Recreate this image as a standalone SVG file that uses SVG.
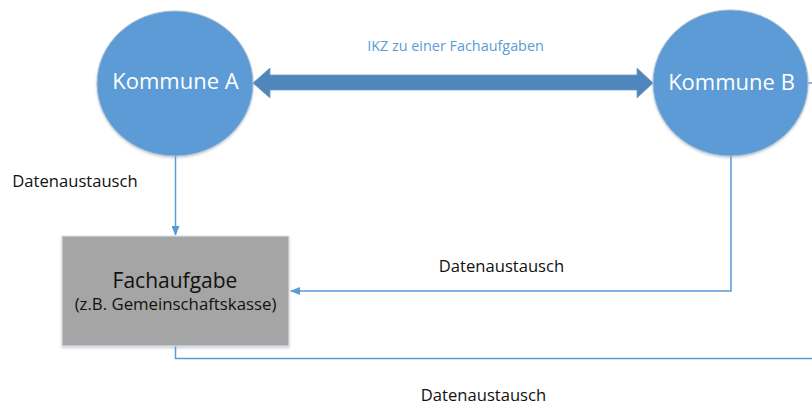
<svg xmlns="http://www.w3.org/2000/svg" width="812" height="405" viewBox="0 0 812 405">
<defs>
<style>
.lbl{font-family:"Open Sans","Liberation Sans",sans-serif;fill:#111111;text-anchor:middle}
.node{fill:#5B9BD5;stroke:#a9bdd0;stroke-width:1}
.ntxt{font-family:"Open Sans","Liberation Sans",sans-serif;fill:#ffffff;text-anchor:middle}
.conn{fill:none;stroke:#5B9BD5;stroke-width:1.5}
</style>
<marker id="ah" markerWidth="10" markerHeight="8" refX="9" refY="4" orient="auto" markerUnits="userSpaceOnUse">
<path d="M0,0 L10,4 L0,8 Z" fill="#5B9BD5"/>
</marker>
<filter id="sh" x="-10%" y="-10%" width="120%" height="125%">
<feDropShadow dx="0" dy="1.5" stdDeviation="1.2" flood-color="#7f93a8" flood-opacity="0.45"/>
</filter>
</defs>
<rect width="812" height="405" fill="#ffffff"/>
<g id="connectors">
<polygon points="253,83 270,68 270,75 637,75 637,68 653,83 637,98 637,90 270,90 270,98" fill="#4F86BB" stroke="#6f9cc7" stroke-width="0.8"/>
<text class="lbl" x="455.5" y="51" font-size="14.4" style="fill:#5B9BD5">IKZ zu einer Fachaufgaben</text>
<line class="conn" x1="175.5" y1="156" x2="175.5" y2="235" marker-end="url(#ah)"/>
<polyline class="conn" points="731,156 731,291 291,291" marker-end="url(#ah)"/>
<polyline class="conn" points="175.5,346 175.5,358.5 812,358.5"/>
<line class="conn" x1="808" y1="83" x2="812" y2="83"/>
<text class="lbl" x="75" y="187" font-size="16.6">Datenaustausch</text>
<text class="lbl" x="501.5" y="272" font-size="16.6">Datenaustausch</text>
<text class="lbl" x="483.5" y="400.5" font-size="16.6">Datenaustausch</text>
</g>
<g id="kommuneA">
<ellipse class="node" cx="175" cy="83.5" rx="78" ry="72.5" filter="url(#sh)"/>
<text class="ntxt" x="175.5" y="89" font-size="22">Kommune A</text>
</g>
<g id="kommuneB">
<ellipse class="node" cx="730.5" cy="83" rx="77.5" ry="73" filter="url(#sh)"/>
<text class="ntxt" x="731.5" y="90" font-size="22">Kommune B</text>
</g>
<g id="fachaufgabe">
<rect x="62" y="236" width="227" height="110" fill="#A5A5A5" stroke="#dfe6ee" stroke-width="1" filter="url(#sh)"/>
<text class="lbl" x="175" y="288" font-size="21">Fachaufgabe</text>
<text class="lbl" x="175.5" y="310" font-size="16.8">(z.B. Gemeinschaftskasse)</text>
</g>
</svg>
